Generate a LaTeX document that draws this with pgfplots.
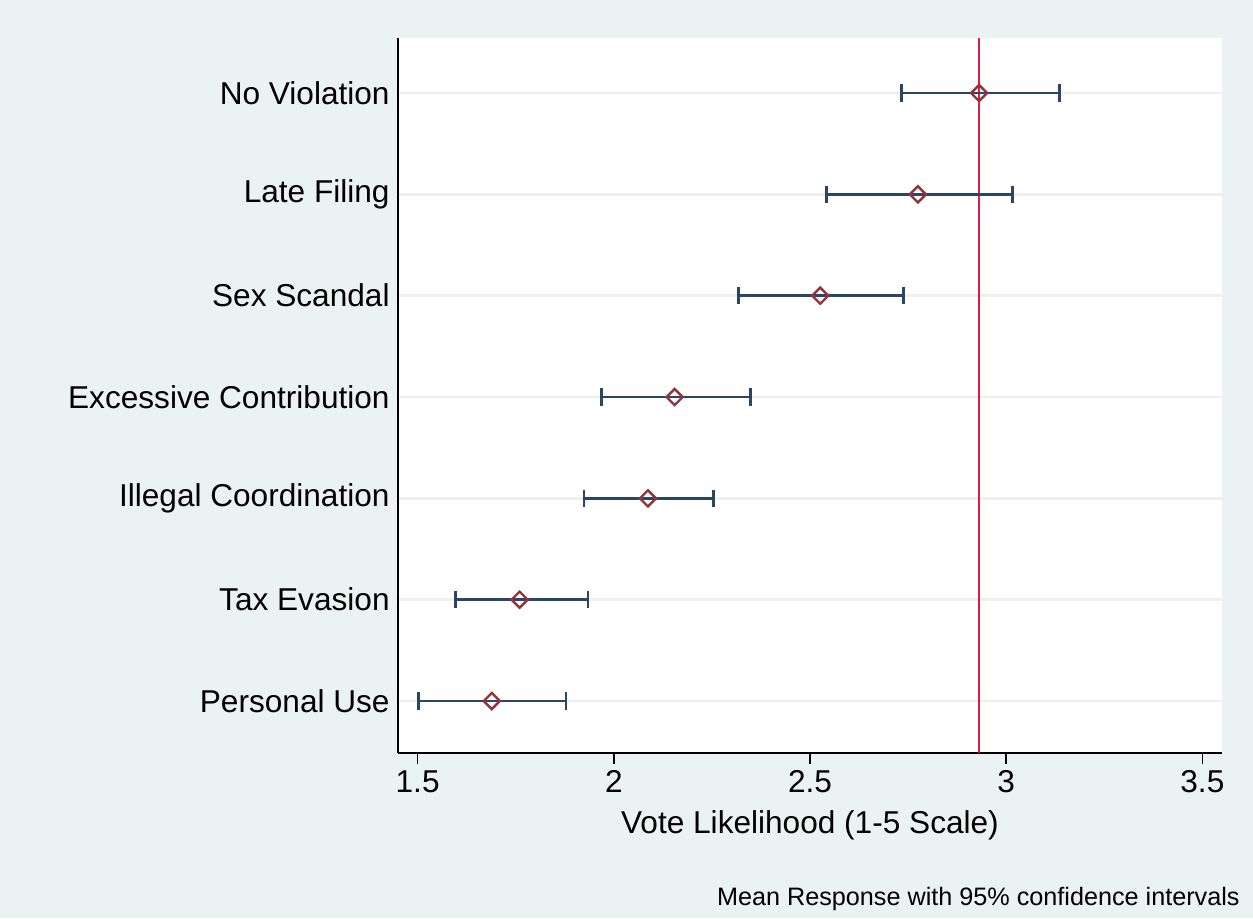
\documentclass[border=0pt]{standalone}
\usepackage{fontspec}
\setmainfont{Liberation Sans}
\usepackage{pgfplots}
\usepackage{pgfplotstable}
\pgfplotsset{compat=1.18}
\definecolor{bgc}{RGB}{234,242,244}
\definecolor{gridc}{RGB}{236,240,240}
\definecolor{barc}{RGB}{42,70,100}
\definecolor{markc}{RGB}{144,53,59}
\definecolor{refc}{RGB}{222,28,70}
\pgfplotstableread{
y lo m hi
7 2.734 2.931 3.135
6 2.543 2.775 3.017
5 2.318 2.526 2.738
4 1.968 2.155 2.349
3 1.924 2.087 2.255
2 1.596 1.760 1.934
1 1.502 1.689 1.878
}\datatable
\begin{document}
\begin{tikzpicture}
\fill[bgc] (-199pt,-82.5pt) rectangle (427.5pt,376.5pt);
\begin{axis}[
  at={(0,0)}, anchor=south west,
  scale only axis, width=412pt, height=357.5pt,
  xmin=1.45, xmax=3.55, ymin=0.487, ymax=7.543,
  axis background/.style={fill=white},
  axis x line*=bottom, axis y line*=left,
  axis line style={black, line width=0.8pt, -},
  xtick={1.5,2,2.5,3,3.5},
  ytick={1,2,3,4,5,6,7},
  yticklabels={Personal Use, Tax Evasion, Illegal Coordination, Excessive Contribution, Sex Scandal, Late Filing, No Violation},
  tick align=outside, major tick length=5.5pt,
  xtick style={black, line width=0.8pt},
  ytick style={draw=none},
  ymajorgrids, grid style={gridc, line width=1.3pt},
  /pgf/number format/assume math mode=true,
  tick label style={font=\fontsize{15.8}{18}\selectfont},
  xticklabel style={inner sep=1pt, yshift=-2pt},
  yticklabel style={inner sep=0pt, xshift=1.5pt},
  xlabel={Vote Likelihood (1-5 Scale)},
  xlabel style={at={(axis description cs:0.5,0)}, anchor=center, yshift=-36pt, font=\fontsize{15.8}{18}\selectfont},
  clip=false,
]
\addplot[refc, line width=1.3pt, mark=none] coordinates {(2.931,0.487) (2.931,7.543)};
\addplot[only marks, mark=square, mark size=2.85pt,
  mark options={rotate=45, draw=markc, fill=white, line width=1.2pt},
  error bars/.cd, x dir=both, x explicit,
  error bar style={barc, line width=1.4pt},
  error mark options={barc, line width=1.4pt, mark size=4.4pt, rotate=90}]
  table[x=m, y=y, x error plus expr=\thisrow{hi}-\thisrow{m}, x error minus expr=\thisrow{m}-\thisrow{lo}] {\datatable};
\end{axis}
\node[anchor=east, font=\fontsize{12.6}{15}\selectfont, inner sep=0pt] at (421pt,-73pt) {Mean Response with 95\% confidence intervals};
\pgfresetboundingbox
\useasboundingbox (-199pt,-82.5pt) rectangle (427.5pt,376.5pt);
\end{tikzpicture}
\end{document}
